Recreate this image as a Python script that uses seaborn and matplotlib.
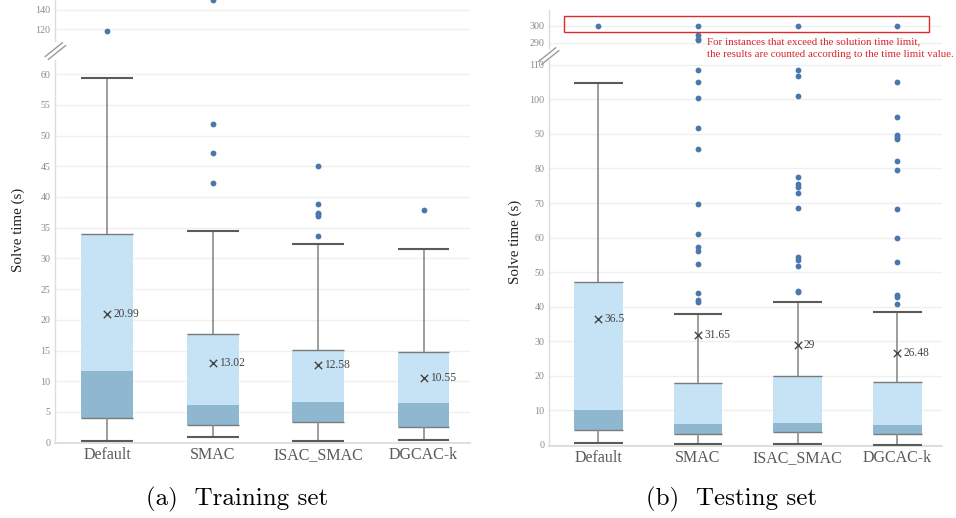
import numpy as np
import pandas as pd
import matplotlib
matplotlib.use("Agg")
import matplotlib.pyplot as plt
import seaborn as sns
from matplotlib.lines import Line2D
from matplotlib.patches import Rectangle

# ---------------- data ----------------
categories = ["Default", "SMAC", "ISAC_SMAC", "DGCAC-k"]

train_whislo = [0.3, 0.9, 0.3, 0.5]
train_q1 = [4.1, 2.8, 3.3, 2.6]
train_med = [11.7, 6.1, 6.7, 6.5]
train_q3 = [34.0, 17.7, 15.1, 14.7]
train_whishi = [59.3, 34.4, 32.4, 31.6]
train_mean = [20.99, 13.02, 12.58, 10.55]
train_outliers = [
    [117.5],
    [150.0, 51.95, 47.2, 42.3],
    [45.1, 38.9, 37.4, 37.2, 36.9, 33.7],
    [37.8],
]

test_whislo = [0.6, 0.3, 0.2, 0.0]
test_q1 = [4.4, 3.2, 3.6, 3.2]
test_med = [10.2, 6.0, 6.4, 5.8]
test_q3 = [47.2, 17.9, 19.8, 18.3]
test_whishi = [104.6, 38.0, 41.4, 38.5]
test_mean = [36.5, 31.65, 29, 26.48]
test_mean_labels = ["36.5", "31.65", "29", "26.48"]
train_mean_labels = ["20.99", "13.02", "12.58", "10.55"]
test_outliers = [
    [300.0],
    [300.0, 294.3, 292.2, 291.6, 108.6, 105.1, 100.5, 91.8, 85.7, 69.6, 61.0,
     57.4, 56.0, 52.3, 43.9, 41.9, 41.3],
    [300.0, 108.4, 106.8, 100.9, 77.5, 75.6, 74.6, 72.8, 68.6, 54.4, 53.5,
     51.8, 44.5, 44.1],
    [300.0, 105.1, 94.9, 89.7, 89.1, 88.6, 82.2, 79.5, 68.4, 60.0, 53.0,
     43.4, 42.9, 40.8],
]

train_yticks_bot = list(range(0, 61, 5))
train_yticks_top = [120, 140]
test_yticks_bot = list(range(0, 111, 10))
test_yticks_top = [290, 300]

note_lines = ["For instances that exceed the solution time limit,",
              "the results are counted according to the time limit value."]
captions = ["(a)  Training set", "(b)  Testing set"]
ylabel = "Solve time (s)"

# ---------------- style ----------------
sns.set_theme(style="white")
plt.rcParams['font.family'] = ['Liberation Serif', 'DejaVu Serif']

LIGHT = "#c6e2f5"
DARK = "#8fb8d0"
DOT = "#4a77ae"
WHISK = "#8c8c8c"
CAP = "#5a5a5a"
GRID = "#efefef"
SPINE = "#dcdcdc"
TICKC = "#8a8a8a"
CATC = "#595959"

W, H = 956, 518
fig = plt.figure(figsize=(W / 100, H / 100), dpi=100)


def add_ax(x0, x1, ytop, ybot):
    return fig.add_axes([x0 / W, 1 - ybot / H, (x1 - x0) / W, (ybot - ytop) / H])


def style_ax(ax, xlim, yticks, show_x):
    ax.set_xlim(*xlim)
    for s in ax.spines.values():
        s.set_visible(False)
    ax.spines['left'].set_visible(True)
    ax.spines['left'].set_color(SPINE)
    ax.spines['left'].set_linewidth(1.0)
    ax.set_yticks(yticks)
    ax.grid(axis='y', color=GRID, lw=0.9)
    ax.grid(axis='x', visible=False)
    ax.set_axisbelow(True)
    ax.tick_params(axis='y', length=0, pad=3, labelsize=7.2, labelcolor=TICKC)
    ax.set_xlabel("")
    ax.set_ylabel("")
    if show_x:
        ax.spines['bottom'].set_visible(True)
        ax.spines['bottom'].set_color(SPINE)
        ax.set_xticks(range(len(categories)))
        ax.set_xticklabels(categories)
        ax.tick_params(axis='x', length=0, pad=3, labelsize=11.5, labelcolor=CATC)
    else:
        ax.set_xticks([])


def draw_panel(ax_top, ax_bot, lo, q1, med, q3, hi, means, mean_labels, outliers,
               xlim, ylim_top, ylim_bot, yt_top, yt_bot, bw):
    xs = np.arange(len(categories))
    lo, q1, med, q3, hi = map(np.asarray, (lo, q1, med, q3, hi))
    df = pd.DataFrame({
        "method": [c for c, o in zip(categories, outliers) for _ in o],
        "time": [v for o in outliers for v in o],
    })
    for ax in (ax_top, ax_bot):
        sns.stripplot(data=df, x="method", y="time", order=categories, jitter=False,
                      color=DOT, size=4.2, linewidth=0, ax=ax, zorder=5)
    # boxes
    ax_bot.bar(xs, med - q1, bottom=q1, width=bw, color=DARK, lw=0, zorder=2)
    ax_bot.bar(xs, q3 - med, bottom=med, width=bw, color=LIGHT, lw=0, zorder=2)
    ax_bot.hlines(q1, xs - bw / 2, xs + bw / 2, color="#7a7a7a", lw=1.0, zorder=3)
    ax_bot.hlines(q3, xs - bw / 2, xs + bw / 2, color="#7a7a7a", lw=1.0, zorder=3)
    ax_bot.vlines(xs, q3, hi, color=WHISK, lw=1.2, zorder=3)
    ax_bot.vlines(xs, lo, q1, color=WHISK, lw=1.2, zorder=3)
    ax_bot.hlines(hi, xs - bw / 2, xs + bw / 2, color=CAP, lw=1.5, zorder=3)
    ax_bot.hlines(lo, xs - bw / 2, xs + bw / 2, color=CAP, lw=1.5, zorder=3)
    # means
    sns.scatterplot(x=xs, y=means, marker="x", color="#444444", s=28, linewidth=1.0,
                    ax=ax_bot, zorder=6, legend=False)
    for x, m, lab in zip(xs, means, mean_labels):
        ax_bot.annotate(lab, (x, m), xytext=(4.5, 0), textcoords="offset points",
                        ha="left", va="center", fontsize=8.3, color="#444444", zorder=7)
    ax_top.set_ylim(*ylim_top)
    ax_bot.set_ylim(*ylim_bot)
    style_ax(ax_top, xlim, yt_top, False)
    style_ax(ax_bot, xlim, yt_bot, True)


# left panel
axL_top = add_ax(54.5, 470, 0, 41)
axL_bot = add_ax(54.5, 470, 60, 443.3)
draw_panel(axL_top, axL_bot, train_whislo, train_q1, train_med, train_q3, train_whishi,
           train_mean, train_mean_labels, train_outliers,
           (-0.5, 3.44), (107.4, 150.5), (-0.1, 62.3),
           train_yticks_top, train_yticks_bot, 0.49)

# right panel
axR_top = add_ax(548.5, 942, 10, 48)
axR_bot = add_ax(548.5, 942, 60, 446)
draw_panel(axR_top, axR_bot, test_whislo, test_q1, test_med, test_q3, test_whishi,
           test_mean, test_mean_labels, test_outliers,
           (-0.5, 3.45), (286.9, 309.2), (-0.35, 111.4),
           test_yticks_top, test_yticks_bot, 0.49)


def px_line(x0, y0, x1, y1, **kw):
    fig.add_artist(Line2D([x0 / W, x1 / W], [1 - y0 / H, 1 - y1 / H], **kw))


# break marks
for (bx, by) in [(45, 56.7), (538.3, 61.7)]:
    px_line(bx, by, bx + 17.5, by - 14, color="#9a9a9a", lw=1.0)
    px_line(bx + 3.2, by + 2.8, bx + 20.7, by - 11.2, color="#9a9a9a", lw=1.0)

# y labels
fig.text(18.5 / W, 1 - 230 / H, ylabel, rotation=90, ha="center", va="center",
         fontsize=10.8, color="#222222")
fig.text(515 / W, 1 - 242 / H, ylabel, rotation=90, ha="center", va="center",
         fontsize=10.8, color="#222222")

# annotation box and note
fig.add_artist(Rectangle((564.3 / W, 1 - 32.3 / H), (928.7 - 564.3) / W, 16 / H,
                         transform=fig.transFigure, fill=False, edgecolor="#e02a2a",
                         lw=1.0))
fig.text(706.7 / W, 1 - 41.7 / H, note_lines[0], ha="left", va="center",
         fontsize=7.8, color="#d8262a")
fig.text(706.7 / W, 1 - 54.3 / H, note_lines[1], ha="left", va="center",
         fontsize=7.8, color="#d8262a")

# captions
fig.text(237 / W, 1 - 499 / H, captions[0], ha="center", va="center",
         fontsize=18, family="cmr10", color="black")
fig.text(732 / W, 1 - 499 / H, captions[1], ha="center", va="center",
         fontsize=18, family="cmr10", color="black")

fig.savefig("out.png", dpi=100)
